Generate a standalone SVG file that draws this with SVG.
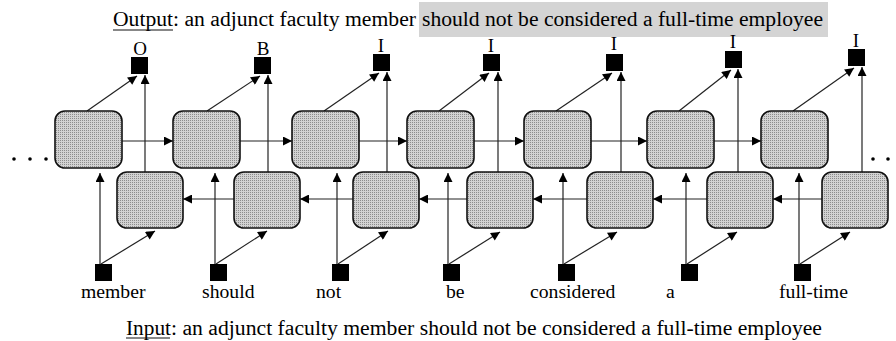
<svg xmlns="http://www.w3.org/2000/svg" width="896" height="341" viewBox="0 0 896 341">
<defs>
<pattern id="dots" width="2" height="2" patternUnits="userSpaceOnUse">
<rect width="2" height="2" fill="#d2d2d2"/>
<rect width="1" height="1" fill="#8c8c8c"/>
</pattern>
<marker id="ah" viewBox="0 0 10 10" refX="10" refY="5" markerWidth="10" markerHeight="9" markerUnits="userSpaceOnUse" orient="auto">
<path d="M0,0 L10,5 L0,10 z" fill="#000"/>
</marker>
<style>
.cell{fill:url(#dots);stroke:#111;stroke-width:1.6}
.sq{fill:#000}
.t{fill:#000}
.title{font-size:20px}
.lbl{font-size:19.7px}
.tag{font-size:19px;text-anchor:middle}
.c{stroke:#222;stroke-width:1.2;fill:none;marker-end:url(#ah)}
</style>
</defs>
<rect width="896" height="341" fill="#fff"/>
<g id="titles" font-family="'Liberation Serif', 'Times New Roman', 'DejaVu Serif', serif">
<rect x="419" y="2" width="409" height="35" fill="#d4d4d4"/>
<text class="t title" x="113" y="26" textLength="60" lengthAdjust="spacingAndGlyphs">Output</text>
<line x1="113" y1="30" x2="173" y2="30" stroke="#111" stroke-width="1.1"/>
<text class="t title" x="173" y="26" textLength="243" lengthAdjust="spacingAndGlyphs">: an adjunct faculty member</text>
<text class="t title" x="422" y="26" textLength="401" lengthAdjust="spacingAndGlyphs">should not be considered a full-time  employee</text>
<text class="t title" x="126" y="335" textLength="45" lengthAdjust="spacingAndGlyphs">Input</text>
<line x1="126" y1="338" x2="170" y2="338" stroke="#111" stroke-width="1.1"/>
<text class="t title" x="171" y="335" textLength="651" lengthAdjust="spacingAndGlyphs">: an adjunct faculty member should not be considered a full-time  employee</text>
</g>
<g id="ellipsis" fill="#000">
<circle cx="14" cy="159" r="1.8"/><circle cx="30" cy="159" r="1.8"/><circle cx="46" cy="159" r="1.8"/>
<circle cx="873" cy="159" r="1.8"/><circle cx="888" cy="159" r="1.8"/>
</g>
<g id="connectors">
<line class="c" x1="122" y1="141" x2="173" y2="141"/>
<line class="c" x1="240" y1="141" x2="292" y2="141"/>
<line class="c" x1="359" y1="141" x2="407" y2="141"/>
<line class="c" x1="474" y1="141" x2="524" y2="141"/>
<line class="c" x1="591" y1="141" x2="647" y2="141"/>
<line class="c" x1="714" y1="141" x2="761" y2="141"/>
<line class="c" x1="234" y1="199" x2="183" y2="199"/>
<line class="c" x1="353" y1="199" x2="300" y2="199"/>
<line class="c" x1="467" y1="199" x2="419" y2="199"/>
<line class="c" x1="587" y1="199" x2="533" y2="199"/>
<line class="c" x1="707" y1="199" x2="653" y2="199"/>
<line class="c" x1="822" y1="199" x2="773" y2="199"/>
<line class="c" x1="145" y1="172" x2="145" y2="75"/>
<line class="c" x1="268" y1="172" x2="268" y2="75"/>
<line class="c" x1="387" y1="172" x2="387" y2="72"/>
<line class="c" x1="498" y1="172" x2="498" y2="72"/>
<line class="c" x1="621" y1="172" x2="621" y2="72"/>
<line class="c" x1="738" y1="172" x2="738" y2="69"/>
<line class="c" x1="862" y1="172" x2="862" y2="67"/>
<line class="c" x1="87" y1="111" x2="137" y2="76"/>
<line class="c" x1="207" y1="111" x2="260" y2="76"/>
<line class="c" x1="324" y1="111" x2="379" y2="73"/>
<line class="c" x1="439" y1="111" x2="489" y2="73"/>
<line class="c" x1="556" y1="111" x2="612" y2="73"/>
<line class="c" x1="679" y1="111" x2="731" y2="70"/>
<line class="c" x1="793" y1="111" x2="854" y2="68"/>
<line class="c" x1="100" y1="264" x2="100" y2="173"/>
<line class="c" x1="215" y1="264" x2="215" y2="173"/>
<line class="c" x1="337" y1="264" x2="337" y2="173"/>
<line class="c" x1="448" y1="264" x2="448" y2="173"/>
<line class="c" x1="563" y1="264" x2="563" y2="173"/>
<line class="c" x1="686" y1="264" x2="686" y2="173"/>
<line class="c" x1="799" y1="264" x2="799" y2="173"/>
<line class="c" x1="101" y1="264" x2="155" y2="231"/>
<line class="c" x1="216" y1="264" x2="267" y2="231"/>
<line class="c" x1="338" y1="264" x2="388" y2="231"/>
<line class="c" x1="449" y1="264" x2="500" y2="232"/>
<line class="c" x1="564" y1="264" x2="617" y2="232"/>
<line class="c" x1="687" y1="264" x2="737" y2="232"/>
<line class="c" x1="800" y1="264" x2="850" y2="232"/>
</g>
<g id="f1"><rect class="cell" x="55" y="111" width="67" height="57" rx="10"/></g>
<g id="f2"><rect class="cell" x="173" y="111" width="67" height="57" rx="10"/></g>
<g id="f3"><rect class="cell" x="292" y="111" width="67" height="57" rx="10"/></g>
<g id="f4"><rect class="cell" x="407" y="111" width="67" height="57" rx="10"/></g>
<g id="f5"><rect class="cell" x="524" y="111" width="67" height="57" rx="10"/></g>
<g id="f6"><rect class="cell" x="647" y="111" width="67" height="57" rx="10"/></g>
<g id="f7"><rect class="cell" x="761" y="111" width="67" height="57" rx="10"/></g>
<g id="b1"><rect class="cell" x="117" y="172" width="66" height="56" rx="10"/></g>
<g id="b2"><rect class="cell" x="234" y="172" width="66" height="56" rx="10"/></g>
<g id="b3"><rect class="cell" x="353" y="172" width="66" height="56" rx="10"/></g>
<g id="b4"><rect class="cell" x="467" y="172" width="66" height="56" rx="10"/></g>
<g id="b5"><rect class="cell" x="587" y="172" width="66" height="56" rx="10"/></g>
<g id="b6"><rect class="cell" x="707" y="172" width="66" height="56" rx="10"/></g>
<g id="b7"><rect class="cell" x="822" y="172" width="66" height="56" rx="10"/></g>
<g font-family="'Liberation Serif', 'Times New Roman', 'DejaVu Serif', serif">
<g id="o1"><rect class="sq" x="131" y="57" width="17" height="17"/><text class="t tag" x="140" y="55">O</text></g>
<g id="o2"><rect class="sq" x="254" y="57" width="17" height="17"/><text class="t tag" x="263" y="55">B</text></g>
<g id="o3"><rect class="sq" x="373" y="54" width="17" height="17"/><text class="t tag" x="381" y="52">I</text></g>
<g id="o4"><rect class="sq" x="483" y="54" width="17" height="17"/><text class="t tag" x="491" y="52">I</text></g>
<g id="o5"><rect class="sq" x="606" y="54" width="17" height="17"/><text class="t tag" x="614" y="50">I</text></g>
<g id="o6"><rect class="sq" x="725" y="51" width="17" height="17"/><text class="t tag" x="733" y="48">I</text></g>
<g id="o7"><rect class="sq" x="848" y="49" width="17" height="17"/><text class="t tag" x="856" y="47">I</text></g>
<g id="i1"><rect class="sq" x="95" y="264" width="17" height="17"/><text class="t lbl" x="81" y="298">member</text></g>
<g id="i2"><rect class="sq" x="210" y="264" width="17" height="17"/><text class="t lbl" x="202" y="298">should</text></g>
<g id="i3"><rect class="sq" x="332" y="264" width="17" height="17"/><text class="t lbl" x="316" y="298">not</text></g>
<g id="i4"><rect class="sq" x="443" y="264" width="17" height="17"/><text class="t lbl" x="446" y="298">be</text></g>
<g id="i5"><rect class="sq" x="558" y="264" width="17" height="17"/><text class="t lbl" x="530" y="298">considered</text></g>
<g id="i6"><rect class="sq" x="681" y="264" width="17" height="17"/><text class="t lbl" x="666" y="298">a</text></g>
<g id="i7"><rect class="sq" x="794" y="264" width="17" height="17"/><text class="t lbl" x="779" y="298">full-time</text></g>
</g>
</svg>
